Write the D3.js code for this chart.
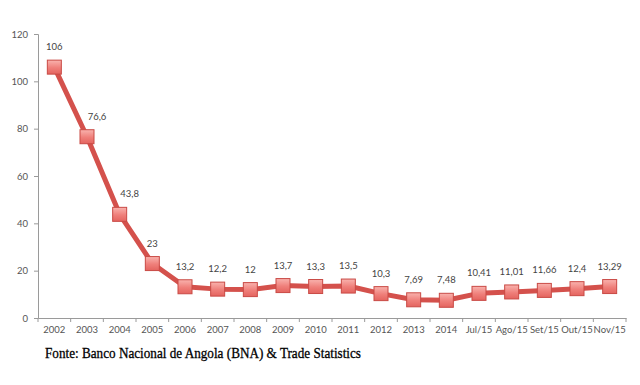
<!DOCTYPE html>
<html>
<head>
<meta charset="utf-8">
<script src="https://cdn.jsdelivr.net/npm/d3@7"></script>
<style>
  body { margin: 0; background: #fff; }
  svg { display: block; }
</style>
</head>
<body>
<div id="chart"></div>
<script>
const categories = ['2002', '2003', '2004', '2005', '2006', '2007', '2008', '2009', '2010', '2011',
  '2012', '2013', '2014', 'Jul/15', 'Ago/15', 'Set/15', 'Out/15', 'Nov/15'];
const values = [106, 76.6, 43.8, 23, 13.2, 12.2, 12, 13.7, 13.3, 13.5,
  10.3, 7.69, 7.48, 10.41, 11.01, 11.66, 12.4, 13.29];
const valueLabels = ['106', '76,6', '43,8', '23', '13,2', '12,2', '12', '13,7', '13,3', '13,5',
  '10,3', '7,69', '7,48', '10,41', '11,01', '11,66', '12,4', '13,29'];
const yTicks = [0, 20, 40, 60, 80, 100, 120];
const sourceText = 'Fonte: Banco Nacional de Angola (BNA) & Trade Statistics';

const w = 640, h = 385;
const margin = { top: 34, right: 14, bottom: 67, left: 38 };

const svg = d3.select('#chart').append('svg')
  .attr('width', w)
  .attr('height', h);

const defs = svg.append('defs');
const grad = defs.append('linearGradient')
  .attr('id', 'mk')
  .attr('x1', 0).attr('y1', 0).attr('x2', 0).attr('y2', 1);
grad.append('stop').attr('offset', '0%').attr('stop-color', '#f9b3ae');
grad.append('stop').attr('offset', '55%').attr('stop-color', '#ef7f7a');
grad.append('stop').attr('offset', '100%').attr('stop-color', '#e4645f');

const x = d3.scaleBand()
  .domain(categories)
  .range([margin.left, w - margin.right]);

const y = d3.scaleLinear()
  .domain([0, 120])
  .range([h - margin.bottom, margin.top]);

const font = 'Lato, "Open Sans", sans-serif';

// axes
const xAxis = svg.append('g')
  .attr('transform', `translate(0,${h - margin.bottom})`)
  .call(d3.axisBottom(x).tickSize(0).tickPadding(8));
xAxis.select('.domain').attr('stroke', '#9a9a9a');
xAxis.selectAll('text')
  .attr('fill', '#555')
  .attr('font-size', 9.5)
  .attr('font-family', font);
// tick marks sit on the band boundaries
svg.append('g')
  .selectAll('line')
  .data(categories.concat(['end']))
  .join('line')
  .attr('x1', (d, i) => i < categories.length ? x(d) : x.range()[1])
  .attr('x2', (d, i) => i < categories.length ? x(d) : x.range()[1])
  .attr('y1', h - margin.bottom)
  .attr('y2', h - margin.bottom + 4)
  .attr('stroke', '#9a9a9a');

const yAxis = svg.append('g')
  .attr('transform', `translate(${margin.left},0)`)
  .call(d3.axisLeft(y).tickValues(yTicks).tickSize(4).tickPadding(6));
yAxis.select('.domain').attr('stroke', '#9a9a9a');
yAxis.selectAll('.tick line').attr('stroke', '#9a9a9a');
yAxis.selectAll('text')
  .attr('fill', '#555')
  .attr('font-size', 9.5)
  .attr('font-family', font);

const cx = d => x(d) + x.bandwidth() / 2;

// line
const line = d3.line()
  .x((d, i) => cx(categories[i]))
  .y(d => y(d));

svg.append('path')
  .datum(values)
  .attr('d', line)
  .attr('fill', 'none')
  .attr('stroke', '#d4514c')
  .attr('stroke-width', 5)
  .attr('stroke-linejoin', 'round');

// markers
const size = 14;
svg.append('g')
  .selectAll('rect')
  .data(values)
  .join('rect')
  .attr('x', (d, i) => cx(categories[i]) - size / 2)
  .attr('y', d => y(d) - size / 2)
  .attr('width', size)
  .attr('height', size)
  .attr('fill', 'url(#mk)')
  .attr('stroke', '#c94a45')
  .attr('stroke-width', 1);

// value labels: nudged right where the line falls steeply into the point
svg.append('g')
  .selectAll('text')
  .data(values)
  .join('text')
  .attr('x', (d, i) => cx(categories[i]) + (i > 0 && values[i - 1] - d > 25 ? 10 : 0))
  .attr('y', d => y(d) - 17)
  .attr('text-anchor', 'middle')
  .attr('font-size', 9.5)
  .attr('font-family', font)
  .attr('fill', '#444')
  .text((d, i) => valueLabels[i]);

// source
svg.append('text')
  .attr('x', 45)
  .attr('y', 358)
  .attr('font-size', 15)
  .attr('font-family', '"Liberation Serif", "DejaVu Serif", serif')
  .attr('fill', '#000')
  .attr('stroke', '#000')
  .attr('stroke-width', 0.3)
  .attr('textLength', 316)
  .attr('lengthAdjust', 'spacingAndGlyphs')
  .text(sourceText);
</script>
</body>
</html>
